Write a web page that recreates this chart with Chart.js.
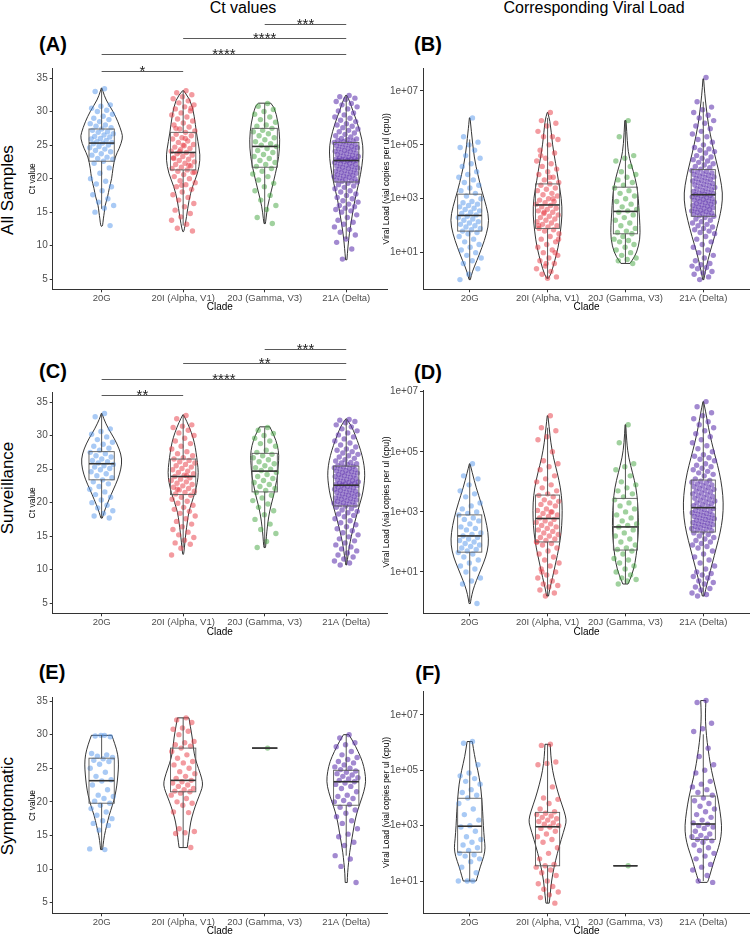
<!DOCTYPE html>
<html>
<head>
<meta charset="utf-8">
<script src="https://cdn.jsdelivr.net/npm/chart.js@4.4.1/dist/chart.umd.min.js"></script>
<style>
  html, body { margin: 0; padding: 0; background: #fff; overflow: hidden; }
  #fig { position: relative; width: 750px; height: 935px; font-family: 'Liberation Sans', Arial, sans-serif; }
  #fig canvas { position: absolute; }
  .lbl { position: absolute; transform: translate(-50%, -50%); white-space: nowrap; color: #000; }
  .head { font-size: 16px; }
  .row { font-size: 17px; transform: translate(-50%, -50%) rotate(-90deg); }
  .tag { font-size: 20px; font-weight: bold; }
</style>
</head>
<body>
<div id="fig">
  <div class="lbl head" style="left:243px;top:8px">Ct values</div>
  <div class="lbl head" style="left:594px;top:8px">Corresponding Viral Load</div>
  <div class="lbl row" style="left:8px;top:190px">All Samples</div>
  <div class="lbl row" style="left:8px;top:488px">Surveillance</div>
  <div class="lbl row" style="left:8px;top:806px">Symptomatic</div>
  <div class="lbl tag" style="left:53px;top:44px">(A)</div>
  <div class="lbl tag" style="left:428px;top:44px">(B)</div>
  <div class="lbl tag" style="left:53px;top:371px">(C)</div>
  <div class="lbl tag" style="left:428px;top:372px">(D)</div>
  <div class="lbl tag" style="left:52px;top:672px">(E)</div>
  <div class="lbl tag" style="left:428px;top:673px">(F)</div>
  <canvas id="pA"></canvas>
  <canvas id="pB"></canvas>
  <canvas id="pC"></canvas>
  <canvas id="pD"></canvas>
  <canvas id="pE"></canvas>
  <canvas id="pF"></canvas>
</div>
<script>
const clades = ['20G', '20I (Alpha, V1)', '20J (Gamma, V3)', '21A (Delta)'];
const cladeColors = ['rgba(84,150,236,0.5)', 'rgba(232,56,66,0.5)', 'rgba(66,164,62,0.5)', 'rgba(100,58,176,0.6)'];

// ---- Ct values, all samples (A) ----
const ctAllPoints = [
  [33.4, 33.0, 31.0, 30.8, 30.5, 30.2, 30.0, 29.6, 29.3, 29.0, 28.8, 28.5, 28.2, 28.0, 27.8, 27.6, 27.4, 27.2, 27.0, 26.9, 26.7, 26.5, 26.3, 26.2, 26.0, 25.9, 25.7, 25.5, 25.4, 25.3, 25.2, 25.0, 24.8, 24.6, 24.4, 24.2, 24.0, 23.7, 23.5, 23.2, 23.0, 22.9, 22.6, 22.3, 21.6, 20.8, 20.0, 19.6, 19.2, 18.8, 18.2, 17.6, 17.0, 16.5, 16.0, 15.6, 15.0, 13.0],
  [33.1, 32.8, 32.5, 32.2, 31.9, 31.6, 31.3, 31.0, 30.7, 30.4, 30.1, 29.8, 29.5, 29.2, 28.9, 28.6, 28.3, 28.0, 27.7, 27.4, 27.1, 26.9, 26.6, 26.4, 26.1, 25.9, 25.6, 25.4, 25.1, 24.9, 24.7, 24.5, 24.3, 24.1, 23.9, 23.7, 23.5, 23.3, 23.1, 22.9, 22.7, 22.5, 22.3, 22.1, 21.9, 21.7, 21.5, 21.3, 21.1, 20.9, 20.6, 20.3, 20.0, 19.7, 19.4, 19.1, 18.8, 18.4, 18.0, 17.6, 17.2, 16.8, 16.3, 15.8, 15.3, 14.8, 14.3, 13.8, 13.2, 12.6, 12.2, 25.0, 23.0, 22.0, 24.0, 21.0, 26.0, 27.5, 30.5, 19.0],
  [31.2, 30.8, 30.3, 30.0, 29.6, 29.2, 28.8, 28.4, 28.0, 27.8, 27.5, 27.2, 27.0, 26.7, 26.4, 26.1, 25.8, 25.5, 25.2, 25.0, 24.8, 24.5, 24.2, 23.9, 23.6, 23.3, 23.0, 22.7, 22.4, 22.1, 21.8, 21.5, 21.1, 20.7, 20.3, 19.8, 19.3, 18.8, 18.2, 17.5, 16.8, 16.0, 15.4, 14.2, 13.3],
  [32.4, 32.2, 32.0, 31.8, 31.5, 31.2, 31.0, 30.7, 30.4, 30.1, 29.8, 29.5, 29.2, 29.0, 28.7, 28.5, 28.2, 28.0, 27.8, 27.6, 27.4, 27.2, 27.0, 26.8, 26.6, 26.4, 26.2, 26.0, 25.9, 25.8, 25.7, 25.6, 25.5,
   25.4, 25.3, 25.2, 25.1, 25.0, 24.9, 24.8, 24.7, 24.6, 24.5, 24.4, 24.3, 24.2, 24.1, 24.0, 23.9, 23.8, 23.7, 23.6, 23.5, 23.4, 23.3, 23.2, 23.1, 23.0, 22.95, 22.9, 22.85, 22.8, 22.75, 22.7, 22.7,
   22.6, 22.5, 22.4, 22.3, 22.2, 22.1, 22.0, 21.9, 21.8, 21.7, 21.6, 21.5, 21.4, 21.3, 21.2, 21.1, 21.0, 20.9, 20.8, 20.7, 20.6, 20.5, 20.4, 20.3, 20.2, 20.1, 20.0, 19.9, 19.8, 19.7, 19.6, 19.5,
   19.3, 19.1, 18.9, 18.7, 18.5, 18.2, 18.0, 17.7, 17.5, 17.2, 17.0, 16.7, 16.5, 16.2, 16.0, 15.8, 15.6, 15.4, 15.2, 15.0,
   14.6, 14.2, 13.8, 13.5, 13.2, 12.8, 12.4, 12.0, 11.6, 11.0, 10.5, 9.5, 8.0]
];
// [q1, median, q3, lower whisker, upper whisker]
const ctAllBoxes = [[22.6, 25.3, 27.4, 15.5, 33.4], [21.3, 23.9, 26.9, 13.0, 33.1], [21.7, 24.8, 27.5, 13.3, 31.2], [19.5, 22.7, 25.4, 11.0, 32.4]];
// violin outline: [value, density]
const ctAllViolins = [
  [[33.5, 1], [33, 4], [31.8, 12], [30, 34], [28.5, 48], [26.8, 60], [26, 62], [24.5, 52], [23.3, 40], [21.5, 33], [20, 30], [18.5, 22], [17.3, 18], [16, 10], [15, 8], [14, 5], [13, 3], [12.9, 1]],
  [[33.1, 2], [31.8, 22], [29.3, 33], [26.8, 39], [24.3, 48], [22.8, 50], [20.8, 43], [18.8, 27], [16.8, 17], [14.3, 10], [12.3, 3], [12.1, 1]],
  [[31.25, 18], [30.8, 28], [28.3, 40], [25.8, 45], [23.3, 42], [20.8, 32], [18.3, 20], [15.8, 8], [14, 4], [13.3, 2]],
  [[32.4, 2], [31.3, 12], [30.3, 18], [28.3, 33], [25.8, 47], [24, 50], [22, 47], [19.3, 37], [16.8, 25], [14.3, 17], [11.8, 9], [9.8, 5], [7.9, 2]]
];
// [from clade, to clade, height, label]
const ctAllBrackets = [[0, 1, 36.09, '*'], [0, 3, 38.58, '****'], [1, 3, 41.0, '****'], [2, 3, 43.0, '***']];

// ---- Viral load (log10 copies), all samples (B) ----
const vlAllPoints = [
  [6.0, 5.3, 5.1, 5.0, 4.9, 4.8, 4.6, 4.5, 4.3, 4.2, 4.0, 3.9, 3.8, 3.7, 3.6, 3.5, 3.4, 3.3, 3.2, 3.1, 3.0, 2.9, 2.85, 2.8, 2.75, 2.7, 2.65, 2.6, 2.55, 2.5, 2.45, 2.4, 2.35, 2.3, 2.25, 2.2, 2.15, 2.1, 2.05, 2.0, 1.95, 1.9, 1.85, 1.8, 1.75, 1.7, 1.6, 1.5, 1.4, 1.3, 1.2, 1.1, 1.0, 0.9, 0.8, 0.7, 0.6, 0.4, 0.2, 0.0],
  [6.2, 5.9, 5.8, 5.7, 5.5, 5.3, 5.3, 5.2, 5.0, 4.8, 4.7, 4.5, 4.4, 4.3, 4.2, 4.1, 4.0, 3.9, 3.8, 3.7, 3.6, 3.55, 3.5, 3.4, 3.35, 3.3, 3.2, 3.15, 3.1, 3.0, 2.95, 2.9, 2.85, 2.8, 2.75, 2.7, 2.65, 2.6, 2.55, 2.5, 2.45, 2.4, 2.35, 2.3, 2.25, 2.2, 2.15, 2.1, 2.05, 2.0, 1.95, 1.9, 1.85, 1.8, 1.7, 1.6, 1.5, 1.4, 1.3, 1.2, 1.1, 1.0, 0.9, 0.8, 0.7, 0.6, 0.5, 0.4, 0.3, 0.2, 0.1, 0.05, 2.0, 3.0, 2.5, 1.5, 3.8, 4.6, 1.0, 0.6],
  [5.9, 5.3, 4.6, 4.5, 4.4, 4.2, 4.0, 3.9, 3.8, 3.7, 3.6, 3.5, 3.4, 3.3, 3.2, 3.1, 3.0, 2.9, 2.8, 2.7, 2.6, 2.55, 2.5, 2.4, 2.3, 2.2, 2.1, 2.0, 1.9, 1.8, 1.75, 1.7, 1.6, 1.5, 1.45, 1.4, 1.3, 1.2, 1.1, 1.0, 0.9, 0.8, 0.75, 0.7, 0.6],
  [7.5, 6.6, 6.4, 6.3, 6.2, 6.1, 6.0, 5.9, 5.8, 5.7, 5.6, 5.5, 5.4, 5.3, 5.2, 5.1, 5.0, 4.9, 4.85, 4.8, 4.75, 4.7, 4.6, 4.55, 4.5, 4.45, 4.4, 4.35, 4.3, 4.25, 4.2, 4.15, 4.1,
   4.05, 4.02, 3.99, 3.96, 3.93, 3.9, 3.87, 3.84, 3.81, 3.78, 3.75, 3.72, 3.69, 3.66, 3.63, 3.6, 3.57, 3.54, 3.51, 3.48, 3.45, 3.42, 3.39, 3.36, 3.33, 3.3, 3.27, 3.24, 3.21, 3.19, 3.17, 3.15,
   3.12, 3.1, 3.07, 3.05, 3.02, 3.0, 2.97, 2.95, 2.92, 2.9, 2.87, 2.85, 2.82, 2.8, 2.77, 2.75, 2.72, 2.7, 2.67, 2.65, 2.62, 2.6, 2.57, 2.55, 2.52, 2.5, 2.47, 2.45, 2.42, 2.4, 2.37, 2.35,
   2.3, 2.25, 2.2, 2.15, 2.1, 2.05, 2.0, 1.95, 1.9, 1.85, 1.8, 1.75, 1.7, 1.6, 1.5, 1.4, 1.3, 1.2, 1.1, 1.0, 0.9, 0.8, 0.7, 0.6, 0.55, 0.5, 0.45, 0.4, 0.3, 0.25, 0.2, 0.1, 0.0]
];
const vlAllBoxes = [[1.8, 2.38, 3.17, 0.0, 5.2], [1.9, 2.77, 3.55, 0.05, 6.0], [1.7, 2.53, 3.43, 0.6, 5.9], [2.35, 3.15, 4.08, 0.0, 6.6]];
const vlAllViolins = [
  [[6.0, 1], [5.5, 5], [4.5, 14], [3.9, 25], [3.3, 37], [2.7, 52], [2.2, 60], [1.7, 52], [1.2, 38], [0.7, 22], [0.3, 8], [0.0, 2]],
  [[6.2, 1], [5.9, 8], [5.0, 15], [4.3, 25], [3.7, 33], [3.0, 43], [2.4, 45], [1.8, 40], [1.2, 33], [0.6, 20], [0.2, 10], [0.05, 3]],
  [[5.9, 2], [5.0, 6], [4.5, 12], [4.0, 25], [3.5, 35], [3.0, 40], [2.5, 42], [2.0, 45], [1.5, 45], [1.0, 35], [0.7, 20], [0.6, 14]],
  [[7.45, 1], [6.8, 5], [6.3, 10], [5.8, 15], [5.0, 28], [4.4, 40], [3.8, 52], [3.2, 60], [2.7, 57], [2.2, 48], [1.6, 35], [1.0, 20], [0.5, 10], [0.1, 3], [0.0, 2]]
];

// ---- Ct values, surveillance (C) ----
const ctSurvPoints = [
  [33.3, 32.8, 31.0, 30.6, 30.2, 29.8, 29.4, 29.0, 28.7, 28.4, 28.1, 27.8, 27.5, 27.3, 27.0, 26.8, 26.5, 26.3, 26.1, 25.9, 25.7, 25.5, 25.3, 25.1, 24.9, 24.6, 24.3, 24.0, 23.7, 23.4, 23.1, 22.8, 22.4, 22.0, 21.6, 21.2, 20.8, 20.4, 20.0, 19.6, 19.2, 18.8, 18.4, 18.0, 17.7],
  [33.0, 32.5, 31.6, 31.4, 31.2, 30.8, 30.4, 30.0, 29.6, 29.2, 28.8, 28.4, 28.0, 27.6, 27.3, 27.0, 26.7, 26.5, 26.3, 26.1, 25.9, 25.7, 25.5, 25.3, 25.1, 24.9, 24.7, 24.5, 24.3, 24.1, 23.9, 23.7, 23.5, 23.3, 23.1, 22.9, 22.7, 22.5, 22.3, 22.1, 21.9, 21.7, 21.5, 21.3, 21.1, 20.8, 20.5, 20.2, 19.9, 19.6, 19.3, 19.0, 18.7, 18.4, 18.0, 17.6, 17.2, 16.8, 16.4, 16.0, 15.6, 15.2, 14.8, 14.4, 14.0, 13.8, 13.2, 12.2, 24.0, 22.0],
  [31.2, 30.8, 30.3, 30.0, 29.6, 29.2, 28.8, 28.4, 27.8, 27.5, 27.2, 27.0, 26.7, 26.4, 26.1, 25.8, 25.5, 25.2, 25.0, 24.8, 24.5, 24.2, 23.9, 23.6, 23.3, 23.0, 22.7, 22.4, 22.1, 21.8, 21.5, 21.1, 20.7, 20.3, 19.8, 19.3, 18.8, 18.2, 17.5, 16.8, 16.0, 15.4, 14.2, 13.3],
  [32.4, 32.3, 32.1, 31.9, 31.6, 31.3, 31.0, 30.7, 30.4, 30.1, 29.8, 29.5, 29.2, 28.9, 28.6, 28.3, 28.0, 27.8, 27.6, 27.4, 27.2, 27.0, 26.8, 26.6, 26.4, 26.2, 26.0, 25.9, 25.8, 25.7, 25.5,
   25.4, 25.3, 25.2, 25.1, 25.0, 24.9, 24.8, 24.7, 24.6, 24.5, 24.4, 24.3, 24.2, 24.1, 24.0, 23.9, 23.8, 23.7, 23.6, 23.5, 23.4, 23.3, 23.2, 23.1, 23.0, 22.9, 22.85, 22.8, 22.7, 22.65, 22.6,
   22.5, 22.4, 22.3, 22.2, 22.1, 22.0, 21.9, 21.8, 21.7, 21.6, 21.5, 21.4, 21.3, 21.2, 21.1, 21.0, 20.9, 20.8, 20.7, 20.6, 20.5, 20.4, 20.3, 20.2, 20.1, 20.0, 19.9, 19.8, 19.7, 19.6, 19.5,
   19.3, 19.1, 18.9, 18.7, 18.5, 18.3, 18.1, 17.9, 17.6, 17.3, 17.0, 16.7, 16.4, 16.1, 15.8, 15.5, 15.2, 14.9, 14.6, 14.3, 14.0, 13.7, 13.4, 13.1, 12.8, 12.5, 12.2, 11.9, 11.6, 11.3, 11.0, 10.7]
];
const ctSurvBoxes = [[23.4, 25.8, 27.6, 17.7, 33.3], [21.2, 23.9, 26.5, 13.3, 33.0], [21.6, 24.7, 27.35, 13.3, 31.2], [19.5, 22.6, 25.45, 10.7, 32.4]];
const ctSurvViolins = [
  [[33.3, 1], [32.5, 6], [31, 20], [29.5, 38], [28, 52], [26.5, 60], [25, 57], [23.5, 48], [22, 35], [20.5, 22], [19, 10], [18, 4], [17.7, 2]],
  [[33.1, 1], [32, 12], [30.5, 24], [29, 33], [27.5, 38], [26, 42], [24.5, 45], [23, 42], [21.5, 35], [20, 25], [18.5, 16], [17, 12], [15.5, 8], [14, 5], [12.5, 2], [12.3, 1]],
  [[31.3, 15], [30, 28], [28.5, 38], [27, 42], [25.5, 40], [24, 38], [22.5, 32], [21, 26], [19.5, 18], [18, 12], [16.5, 8], [15, 5], [13.5, 3], [13.3, 2]],
  [[32.5, 1], [31.5, 15], [30, 27], [28.5, 38], [27, 47], [25.5, 53], [24, 55], [22.5, 52], [21, 47], [19.5, 38], [18, 30], [16.5, 22], [15, 15], [13.5, 9], [12, 5], [11, 2], [10.7, 1]]
];
const ctSurvBrackets = [[0, 1, 36.0, '**'], [0, 3, 38.43, '****'], [1, 3, 40.85, '**'], [2, 3, 42.9, '***']];

// ---- Viral load, surveillance (D) ----
const vlSurvPoints = [
  [4.6, 4.2, 4.1, 3.9, 3.7, 3.6, 3.5, 3.3, 3.2, 3.1, 3.0, 2.95, 2.9, 2.8, 2.75, 2.7, 2.6, 2.5, 2.45, 2.4, 2.3, 2.25, 2.2, 2.15, 2.1, 2.05, 2.0, 1.95, 1.9, 1.85, 1.8, 1.75, 1.7, 1.65, 1.6, 1.5, 1.4, 1.3, 1.2, 1.1, 1.0, 0.8, 0.7, 0.6, -0.05],
  [6.2, 5.8, 5.7, 5.5, 5.4, 5.0, 4.7, 4.6, 4.5, 4.4, 4.2, 4.1, 4.0, 3.9, 3.8, 3.7, 3.6, 3.55, 3.5, 3.4, 3.35, 3.3, 3.25, 3.2, 3.1, 3.05, 3.0, 2.95, 2.9, 2.85, 2.8, 2.75, 2.7, 2.65, 2.6, 2.55, 2.5, 2.45, 2.4, 2.35, 2.3, 2.25, 2.2, 2.15, 2.1, 2.05, 2.0, 1.95, 1.9, 1.8, 1.7, 1.6, 1.5, 1.4, 1.3, 1.2, 1.1, 1.0, 0.9, 0.8, 0.7, 0.6, 0.55, 0.5, 0.4, 0.3, 0.2, 2.0, 3.0, 1.0],
  [5.9, 5.3, 4.6, 4.5, 4.4, 4.2, 4.0, 3.9, 3.8, 3.7, 3.6, 3.5, 3.4, 3.3, 3.2, 3.1, 3.0, 2.9, 2.8, 2.7, 2.6, 2.55, 2.5, 2.4, 2.3, 2.2, 2.1, 2.0, 1.9, 1.8, 1.75, 1.7, 1.6, 1.45, 1.4, 1.3, 1.2, 1.1, 1.0, 0.9, 0.8, 0.75, 0.7, 0.6],
  [6.67, 6.5, 6.3, 6.2, 6.1, 6.0, 5.9, 5.8, 5.7, 5.6, 5.5, 5.4, 5.3, 5.2, 5.1, 5.0, 4.9, 4.85, 4.8, 4.75, 4.7, 4.6, 4.55, 4.5, 4.45, 4.4, 4.35, 4.3, 4.25, 4.2, 4.1,
   4.05, 4.02, 3.99, 3.96, 3.93, 3.9, 3.87, 3.84, 3.81, 3.78, 3.75, 3.72, 3.69, 3.66, 3.63, 3.6, 3.57, 3.54, 3.51, 3.48, 3.45, 3.42, 3.39, 3.36, 3.33, 3.3, 3.27, 3.24, 3.21, 3.18, 3.14,
   3.11, 3.08, 3.05, 3.02, 3.0, 2.97, 2.95, 2.92, 2.9, 2.87, 2.85, 2.82, 2.8, 2.77, 2.75, 2.72, 2.7, 2.67, 2.65, 2.62, 2.6, 2.57, 2.55, 2.52, 2.5, 2.47, 2.45, 2.42, 2.4, 2.37, 2.33,
   2.3, 2.25, 2.2, 2.15, 2.1, 2.05, 2.0, 1.95, 1.9, 1.85, 1.8, 1.7, 1.6, 1.5, 1.4, 1.3, 1.2, 1.1, 1.0, 0.95, 0.9, 0.85, 0.8, 0.7, 0.65, 0.6, 0.5, 0.45, 0.4, 0.3, 0.25, 0.2]
];
const vlSurvBoxes = [[1.66, 2.2, 2.9, 0.0, 4.6], [2.0, 2.78, 3.56, 0.2, 5.8], [1.73, 2.5, 3.45, 0.6, 5.9], [2.33, 3.14, 4.06, 0.2, 6.67]];
const vlSurvViolins = [
  [[4.6, 1], [4.3, 8], [3.8, 20], [3.3, 35], [2.8, 48], [2.3, 57], [1.9, 58], [1.5, 50], [1.1, 35], [0.7, 20], [0.4, 10], [0.1, 4], [-0.05, 2]],
  [[6.2, 1], [5.8, 5], [5.3, 10], [4.8, 18], [4.3, 30], [3.8, 40], [3.3, 45], [2.8, 45], [2.3, 42], [1.8, 35], [1.3, 25], [0.8, 15], [0.4, 6], [0.2, 3]],
  [[5.9, 1], [5.3, 4], [4.8, 10], [4.3, 22], [3.8, 33], [3.3, 38], [2.8, 40], [2.3, 40], [1.8, 36], [1.3, 30], [0.9, 20], [0.6, 8]],
  [[6.67, 1], [6.3, 8], [5.8, 16], [5.3, 26], [4.8, 38], [4.3, 50], [3.8, 58], [3.3, 62], [2.8, 60], [2.3, 52], [1.8, 40], [1.3, 28], [0.8, 16], [0.4, 7], [0.2, 3]]
];

// ---- Ct values, symptomatic (E) ----
const ctSympPoints = [
  [29.9, 29.8, 29.7, 29.9, 27.2, 27.0, 26.8, 26.6, 26.4, 26.2, 26.0, 25.6, 25.0, 24.4, 23.8, 23.3, 23.1, 22.5, 21.8, 21.0, 20.8, 20.5, 20.1, 19.8, 19.5, 19.0, 18.5, 18.0, 17.5, 17.2, 16.8, 16.5, 15.8, 13.0, 12.9],
  [32.5, 32.2, 31.8, 31.0, 30.8, 30.5, 30.0, 29.0, 28.8, 28.5, 28.3, 28.0, 27.5, 27.0, 26.5, 26.0, 25.8, 25.5, 25.0, 24.5, 24.2, 23.8, 23.5, 23.2, 23.0, 22.8, 22.5, 22.3, 22.0, 21.8, 21.6, 21.5, 21.3, 21.0, 20.5, 20.0, 19.8, 19.5, 18.5, 18.4, 16.0, 15.6, 15.4, 15.3, 13.2],
  [28.0],
  [30.0, 29.5, 28.8, 28.5, 28.2, 27.5, 27.0, 26.6, 26.3, 26.0, 25.8, 25.5, 25.2, 25.0, 24.8, 24.6, 24.4, 24.2, 24.0, 23.8, 23.6, 23.4, 23.2, 23.0, 22.8, 22.6, 22.3, 22.0, 21.5, 21.0, 20.8, 20.5, 20.2, 20.0, 19.6, 19.2, 18.8, 18.3, 17.8, 17.2, 16.8, 16.0, 15.2, 14.8, 14.0, 13.5, 12.0, 11.5, 10.4, 8.0]
];
const ctSympBoxes = [[19.8, 23.15, 26.5, 12.9, 29.9], [21.5, 23.2, 28.0, 13.2, 32.5], [28.0, 28.0, 28.0, 28.0, 28.0], [19.5, 23.0, 24.7, 12.0, 30.0]];
const ctSympViolins = [
  [[29.9, 30], [28.5, 40], [27, 48], [25.5, 50], [24, 48], [22.5, 45], [21, 40], [19.5, 32], [18, 22], [16.5, 15], [15, 8], [13.5, 4], [12.9, 3]],
  [[32.5, 17], [31, 22], [29.5, 27], [28, 30], [26.5, 35], [25, 45], [23.5, 55], [22.5, 58], [21.5, 52], [20, 40], [18.5, 30], [17, 22], [15.5, 18], [14, 14], [13.2, 12]],
  [],
  [[30, 8], [29, 20], [27.5, 35], [26, 48], [24.5, 55], [23, 58], [21.5, 52], [20, 42], [18.5, 32], [17, 25], [15.5, 20], [14, 15], [12.5, 10], [11, 7], [9.5, 4], [8, 3]]
];

// ---- Viral load, symptomatic (F) ----
const vlSympPoints = [
  [6.04, 5.98, 5.2, 4.9, 4.8, 4.7, 4.6, 4.5, 4.3, 4.2, 4.1, 4.0, 3.8, 3.6, 3.4, 3.2, 3.0, 2.95, 2.8, 2.6, 2.5, 2.4, 2.3, 2.2, 2.1, 2.0, 1.95, 1.9, 1.8, 1.7, 1.5, 1.3, 1.0, 1.0, 1.0],
  [5.94, 5.9, 5.3, 5.25, 5.2, 4.4, 4.0, 3.95, 3.8, 3.6, 3.5, 3.45, 3.4, 3.35, 3.3, 3.25, 3.2, 3.15, 3.1, 3.05, 3.0, 2.95, 2.9, 2.8, 2.7, 2.6, 2.5, 2.4, 2.2, 2.0, 1.8, 1.6, 1.55, 1.5, 1.4, 1.3, 1.2, 1.0, 0.9, 0.8, 0.7, 0.6, 0.5, 0.4, 0.2],
  [1.55],
  [7.52, 7.45, 6.7, 6.5, 6.4, 5.8, 5.5, 5.2, 5.0, 4.9, 4.6, 4.5, 4.4, 4.3, 4.2, 4.1, 4.0, 3.9, 3.8, 3.7, 3.6, 3.5, 3.4, 3.3, 3.2, 3.1, 3.05, 3.0, 2.95, 2.9, 2.8, 2.7, 2.65, 2.6, 2.55, 2.5, 2.45, 2.4, 2.3, 2.2, 2.1, 2.0, 1.9, 1.8, 1.6, 1.5, 1.4, 1.2, 1.0, 0.95]
];
const vlSympBoxes = [[2.04, 2.98, 3.99, 1.0, 6.04], [1.55, 2.96, 3.48, 0.2, 5.94], [1.55, 1.55, 1.55, 1.55, 1.55], [2.5, 3.06, 4.07, 1.0, 6.3]];
const vlSympViolins = [
  [[6.04, 8], [5.5, 15], [5, 25], [4.5, 33], [4, 37], [3.5, 40], [3, 42], [2.5, 45], [2.2, 48], [1.9, 44], [1.5, 32], [1.2, 25], [1.0, 20]],
  [[5.94, 8], [5.5, 10], [5, 15], [4.5, 25], [4, 37], [3.5, 52], [3.2, 58], [3, 55], [2.5, 42], [2, 30], [1.5, 20], [1, 12], [0.5, 8], [0.2, 5]],
  [],
  [[7.52, 8], [7, 6], [6.5, 8], [6, 12], [5.5, 18], [5, 25], [4.5, 35], [4, 45], [3.5, 52], [3, 57], [2.6, 55], [2.2, 47], [1.8, 35], [1.4, 25], [1.0, 15], [0.95, 12]]
];

const ctTicks = [5, 10, 15, 20, 25, 30, 35];
const vlTicks = [1e1, 1e3, 1e5, 1e7];

// drawing constants
const DENS_SCALE = 240;   // density units per x unit
const BOX_HALF = 0.155;
const JIT = 0.15;
const FONT = "'Liberation Sans', Arial, sans-serif";

function smoothThrough(ctx, p) {
  ctx.lineTo(p[0][0], p[0][1]);
  for (let i = 1; i < p.length - 1; i++) {
    const mx = (p[i][0] + p[i + 1][0]) / 2, my = (p[i][1] + p[i + 1][1]) / 2;
    ctx.quadraticCurveTo(p[i][0], p[i][1], mx, my);
  }
  ctx.lineTo(p[p.length - 1][0], p[p.length - 1][1]);
}

const violinBox = {
  id: 'violinBox',
  beforeDatasetsDraw(chart, args, opts) {
    const {ctx, scales: {x, y}} = chart;
    const val = v => opts.log ? Math.pow(10, v) : v;
    ctx.save();
    ctx.strokeStyle = '#1e1e1e';
    ctx.lineWidth = 0.9;
    opts.violins.forEach((prof, g) => {
      if (!prof.length) return;
      const c = g + 1;
      const right = prof.map(([v, d]) => [x.getPixelForValue(c + d / DENS_SCALE), y.getPixelForValue(val(v))]);
      const left = prof.map(([v, d]) => [x.getPixelForValue(c - d / DENS_SCALE), y.getPixelForValue(val(v))]).reverse();
      ctx.beginPath();
      ctx.moveTo(right[0][0], right[0][1]);
      smoothThrough(ctx, right);
      ctx.lineTo(left[0][0], left[0][1]);
      smoothThrough(ctx, left);
      ctx.closePath();
      ctx.stroke();
    });
    ctx.restore();
  },
  afterDatasetsDraw(chart, args, opts) {
    const {ctx, scales: {x, y}} = chart;
    const val = v => opts.log ? Math.pow(10, v) : v;
    ctx.save();
    opts.boxes.forEach((b, g) => {
      const c = g + 1;
      const xl = x.getPixelForValue(c - BOX_HALF), xr = x.getPixelForValue(c + BOX_HALF), xm = x.getPixelForValue(c);
      const [q1, med, q3, lo, hi] = b.map(v => y.getPixelForValue(val(v)));
      ctx.strokeStyle = '#444';
      ctx.lineWidth = 0.9;
      ctx.beginPath();
      ctx.moveTo(xm, q3); ctx.lineTo(xm, hi);
      ctx.moveTo(xm, q1); ctx.lineTo(xm, lo);
      ctx.stroke();
      ctx.strokeStyle = '#5a5a5a';
      ctx.strokeRect(xl, q3, xr - xl, q1 - q3);
      ctx.strokeStyle = '#333';
      ctx.lineWidth = 1.6;
      ctx.beginPath();
      ctx.moveTo(xl, med); ctx.lineTo(xr, med);
      ctx.stroke();
    });
    (opts.brackets || []).forEach(([a, b, h, lab]) => {
      const x1 = x.getPixelForValue(a + 1), x2 = x.getPixelForValue(b + 1);
      const yy = Math.round(y.getPixelForValue(h)) + 0.5;
      ctx.strokeStyle = '#5a5a5a';
      ctx.lineWidth = 1.2;
      ctx.beginPath();
      ctx.moveTo(x1, yy); ctx.lineTo(x2, yy);
      ctx.stroke();
      ctx.fillStyle = '#222';
      ctx.font = '15px ' + FONT;
      ctx.textAlign = 'center';
      ctx.textBaseline = 'alphabetic';
      ctx.fillText(lab, (x1 + x2) / 2, yy + 4);
    });
    ctx.restore();
  }
};

function makePanel(p) {
  const yTitleLH = 8.5 * 1.2, cladeLH = 10 * 1.2;
  const padLeft = p.titleX - p.cx - yTitleLH / 2;
  const yW = p.L - p.cx - padLeft;
  const xH = (p.cladeY - p.B) + cladeLH / 2;
  const ch = Math.ceil(p.B + xH + 3 - p.cy);
  const canvas = document.getElementById(p.id);
  canvas.width = p.cw; canvas.height = ch;
  canvas.style.left = p.cx + 'px'; canvas.style.top = p.cy + 'px';
  canvas.style.width = p.cw + 'px'; canvas.style.height = ch + 'px';

  const datasets = p.points.map((pts, g) => ({
    data: pts.map((v, i) => ({
      x: g + 1 + (((i + 1) * 0.6180339887) % 1 - 0.5) * 2 * JIT,
      y: p.log ? Math.pow(10, v) : v
    })),
    backgroundColor: cladeColors[g],
    borderWidth: 0,
    pointRadius: 2.7
  }));

  const tickVals = p.log ? vlTicks : ctTicks;
  new Chart(canvas, {
    type: 'scatter',
    data: { datasets },
    options: {
      responsive: false,
      animation: false,
      devicePixelRatio: 1,
      layout: {
        autoPadding: false,
        padding: { left: padLeft, top: p.T - p.cy, right: p.cx + p.cw - p.R, bottom: p.cy + ch - p.B - xH }
      },
      plugins: {
        legend: { display: false },
        tooltip: { enabled: false },
        violinBox: { violins: p.violins, boxes: p.boxes, brackets: p.brackets, log: p.log }
      },
      scales: {
        x: {
          type: 'linear',
          min: 0.4,
          max: p.xMax,
          afterBuildTicks: s => { s.ticks = [1, 2, 3, 4].map(v => ({ value: v })); },
          afterFit: s => { s.height = xH; },
          grid: { drawOnChartArea: false, drawTicks: true, tickLength: 3, color: '#333' },
          border: { display: true, color: '#333', width: 1 },
          ticks: {
            autoSkip: false, maxRotation: 0, padding: 0,
            color: '#4d4d4d', font: { size: 9.5, family: FONT },
            callback: v => clades[Math.round(v) - 1]
          },
          title: { display: true, text: 'Clade', color: '#000', font: { size: 10, family: FONT }, padding: 0 }
        },
        y: {
          type: p.log ? 'logarithmic' : 'linear',
          min: p.yMin,
          max: p.yMax,
          afterBuildTicks: s => { s.ticks = tickVals.map(v => ({ value: v })); },
          afterFit: s => { s.width = yW; },
          grid: { drawOnChartArea: false, drawTicks: true, tickLength: 3, color: '#333' },
          border: { display: true, color: '#333', width: 1 },
          ticks: {
            padding: 2, color: '#4d4d4d', font: { size: 10, family: FONT },
            callback: v => p.log ? '1e+' + String(Math.round(Math.log10(v))).padStart(2, '0') : String(v)
          },
          title: { display: true, text: p.log ? 'Viral Load (vial copies per ul (cpu))' : 'Ct value', color: '#000', font: { size: 8.5, family: FONT }, padding: 0 }
        }
      }
    },
    plugins: [violinBox]
  });
}

const panels = [
  { id: 'pA', cx: 20, cy: 6, cw: 375, L: 52.7, T: 68.3, R: 387, B: 289.3, titleX: 32.3, cladeY: 307.5, xMax: 4.5, yMin: 3.5, yMax: 36.45, log: false,
    points: ctAllPoints, boxes: ctAllBoxes, violins: ctAllViolins, brackets: ctAllBrackets },
  { id: 'pB', cx: 378, cy: 6, cw: 372, L: 423, T: 68.3, R: 750, B: 289.3, titleX: 386.7, cladeY: 307.5, xMax: 4.6, yMin: Math.pow(10, -0.36), yMax: Math.pow(10, 7.84), log: true,
    points: vlAllPoints, boxes: vlAllBoxes, violins: vlAllViolins },
  { id: 'pC', cx: 20, cy: 326, cw: 375, L: 52.7, T: 392.3, R: 387, B: 613.3, titleX: 32.3, cladeY: 632.2, xMax: 4.5, yMin: 3.5, yMax: 36.45, log: false,
    points: ctSurvPoints, boxes: ctSurvBoxes, violins: ctSurvViolins, brackets: ctSurvBrackets },
  { id: 'pD', cx: 378, cy: 326, cw: 372, L: 423, T: 390.5, R: 750, B: 613.3, titleX: 386.7, cladeY: 632.2, xMax: 4.6, yMin: Math.pow(10, -0.375), yMax: Math.pow(10, 7.04), log: true,
    points: vlSurvPoints, boxes: vlSurvBoxes, violins: vlSurvViolins },
  { id: 'pE', cx: 20, cy: 640, cw: 375, L: 52.7, T: 697.7, R: 387, B: 913.3, titleX: 32.3, cladeY: 931.7, xMax: 4.5, yMin: 3.42, yMax: 35.5, log: false,
    points: ctSympPoints, boxes: ctSympBoxes, violins: ctSympViolins },
  { id: 'pF', cx: 378, cy: 640, cw: 372, L: 423, T: 691.7, R: 750, B: 913.3, titleX: 386.7, cladeY: 931.7, xMax: 4.6, yMin: Math.pow(10, -0.167), yMax: Math.pow(10, 7.84), log: true,
    points: vlSympPoints, boxes: vlSympBoxes, violins: vlSympViolins }
];

panels.forEach(makePanel);
</script>
</body>
</html>
